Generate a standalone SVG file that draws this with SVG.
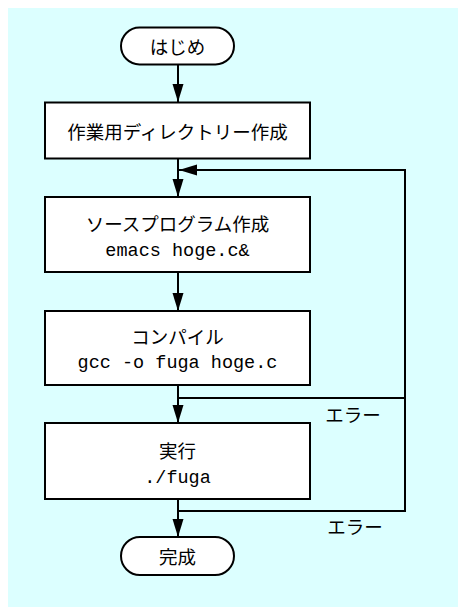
<svg xmlns="http://www.w3.org/2000/svg" width="458" height="607" viewBox="0 0 458 607">
  <style>
    .box { fill: #ffffff; stroke: #000000; stroke-width: 2; }
    .jp { font-family: "Noto Sans CJK JP", "Noto Sans", sans-serif; font-size: 18.5px; fill: #000000; text-anchor: middle; dominant-baseline: central; }
    .mono { font-family: "Liberation Mono", "DejaVu Sans Mono", monospace; font-size: 18.5px; fill: #000000; text-anchor: middle; dominant-baseline: central; }
    .edge { fill: none; stroke: #000000; stroke-width: 2; }
    .arr { marker-end: url(#ah); }
  </style>
  <defs>
    <marker id="ah" markerUnits="userSpaceOnUse" markerWidth="18" markerHeight="12" refX="18" refY="5.5" orient="auto">
      <path d="M0,0 L18,5.5 L0,11 z" fill="#000000"/>
    </marker>
  </defs>
  <rect x="8" y="8" width="450" height="599" fill="#dcffff"/>

  <g id="connectors">
    <line class="edge arr" x1="178" y1="65" x2="178" y2="102"/>
    <line class="edge arr" x1="178" y1="158.5" x2="178" y2="197"/>
    <line class="edge arr" x1="178" y1="272" x2="178" y2="311"/>
    <line class="edge arr" x1="178" y1="385" x2="178" y2="423"/>
    <line class="edge arr" x1="178" y1="499" x2="178" y2="537"/>
    <polyline class="edge" points="178,398 405,398"/>
    <polyline class="edge arr" points="178,511 405,511 405,170 179,170"/>
    <text class="jp" x="353" y="414">エラー</text>
    <text class="jp" x="355" y="526">エラー</text>
  </g>

  <g id="start">
    <rect class="box" x="121" y="27.5" width="113" height="37" rx="18.5" ry="18.5"/>
    <text class="jp" x="177.5" y="46">はじめ</text>
  </g>
  <g id="mkdir">
    <rect class="box" x="45" y="102.5" width="265" height="56"/>
    <text class="jp" x="177.5" y="131">作業用ディレクトリー作成</text>
  </g>
  <g id="edit">
    <rect class="box" x="45" y="197" width="265" height="75"/>
    <text class="jp" x="177.5" y="223">ソースプログラム作成</text>
    <text class="mono" x="177.5" y="251">emacs hoge.c&amp;</text>
  </g>
  <g id="compile">
    <rect class="box" x="45" y="311" width="265" height="74"/>
    <text class="jp" x="177.5" y="336">コンパイル</text>
    <text class="mono" x="177.5" y="363">gcc -o fuga hoge.c</text>
  </g>
  <g id="run">
    <rect class="box" x="45" y="423" width="265" height="76"/>
    <text class="jp" x="177.5" y="450">実行</text>
    <text class="mono" x="177.5" y="478">./fuga</text>
  </g>
  <g id="end">
    <rect class="box" x="121" y="537" width="113" height="38" rx="19" ry="19"/>
    <text class="jp" x="177.5" y="556">完成</text>
  </g>
</svg>
